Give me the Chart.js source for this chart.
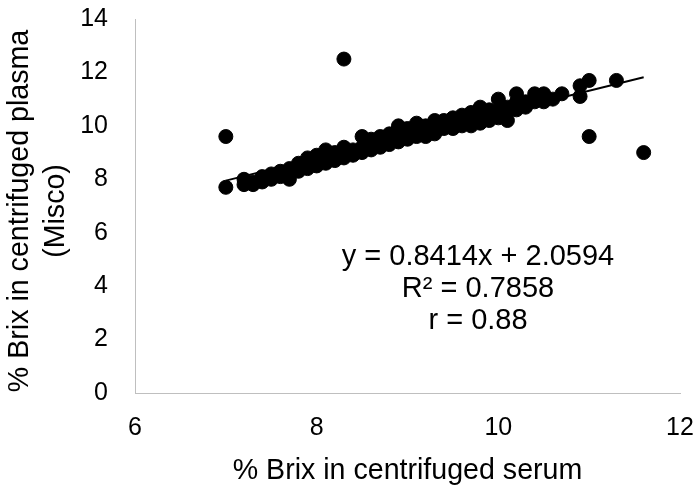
<!DOCTYPE html>
<html>
<head>
<meta charset="utf-8">
<script src="https://cdn.jsdelivr.net/npm/chart.js@4.4.1/dist/chart.umd.min.js"></script>
<style>
  html, body { margin: 0; padding: 0; background: #fff; }
  #wrap { width: 699px; height: 491px; }
</style>
</head>
<body>
<div id="wrap"><canvas id="brixChart" width="699" height="491"></canvas></div>
<script>
// % Brix readings, serum (x) paired with plasma (y)
const serumBrix = [
  7.0, 7.0,
  7.2, 7.2, 7.3, 7.3, 7.4, 7.4, 7.5, 7.5, 7.6, 7.6,
  7.7, 7.7, 7.7, 7.8, 7.8, 7.8, 7.9, 7.9, 7.9,
  8.0, 8.0, 8.0, 8.1, 8.1, 8.1, 8.2, 8.2, 8.2,
  8.3, 8.3, 8.3, 8.3, 8.4, 8.4, 8.4, 8.5, 8.5, 8.5,
  8.6, 8.6, 8.6, 8.7, 8.7, 8.7, 8.8, 8.8, 8.8, 8.9, 8.9, 8.9,
  9.0, 9.0, 9.0, 9.1, 9.1, 9.1, 9.2, 9.2, 9.2, 9.3, 9.3, 9.3,
  9.4, 9.4, 9.4, 9.5, 9.5, 9.5, 9.6, 9.6, 9.6, 9.7, 9.7, 9.7,
  9.8, 9.8, 9.8, 9.9, 9.9, 9.9, 10.0, 10.0, 10.0, 10.1, 10.1, 10.1,
  10.2, 10.2, 10.2, 10.3, 10.3, 10.4, 10.4, 10.5, 10.5, 10.6, 10.7,
  10.9, 10.9, 11.0, 11.0, 11.3, 11.6
];
const plasmaBrix = [
  7.7, 9.6,
  7.8, 8.0, 7.8, 7.9, 7.9, 8.1, 8.0, 8.2, 8.1, 8.3,
  8.0, 8.2, 8.4, 8.3, 8.5, 8.6, 8.4, 8.6, 8.8,
  8.5, 8.7, 8.9, 8.6, 8.8, 9.1, 8.7, 8.9, 9.0,
  8.8, 9.0, 9.2, 12.5, 8.9, 9.0, 9.1, 9.0, 9.2, 9.6,
  9.1, 9.3, 9.5, 9.2, 9.4, 9.6, 9.3, 9.5, 9.7, 9.4, 9.6, 10.0,
  9.5, 9.7, 9.9, 9.6, 9.8, 10.1, 9.6, 9.8, 10.0, 9.7, 9.9, 10.2,
  9.9, 10.0, 10.2, 9.9, 10.1, 10.3, 10.0, 10.2, 10.4, 10.0, 10.3, 10.5,
  10.1, 10.4, 10.7, 10.2, 10.4, 10.6, 10.3, 10.6, 11.0, 10.2, 10.5, 10.7,
  10.6, 10.9, 11.2, 10.7, 10.9, 10.9, 11.2, 10.9, 11.2, 11.0, 11.2,
  11.1, 11.5, 11.7, 9.6, 11.7, 9.0
];

// linear fit reported on the chart
const fitSlope = 0.8414;
const fitIntercept = 2.0594;
const fitLabels = ["y = 0.8414x + 2.0594", "R\u00b2 = 0.7858", "r = 0.88"];

const xTitle = "% Brix in centrifuged serum";
const yTitle = ["% Brix in centrifuged plasma", "(Misco)"];

const FONT = '"Liberation Sans", Arial, sans-serif';

const points = serumBrix.map((x, i) => ({ x: x, y: plasmaBrix[i] }));
const xMin = Math.min(...serumBrix);
const xMax = Math.max(...serumBrix);
const fitLine = [xMin, xMax].map((x) => ({ x: x, y: fitSlope * x + fitIntercept }));

// axis titles and the fit equation, drawn after the datasets
const textPlugin = {
  id: "chartText",
  afterDraw(chart) {
    const ctx = chart.ctx;
    const area = chart.chartArea;
    ctx.save();
    ctx.fillStyle = "#000";
    ctx.textAlign = "center";
    ctx.textBaseline = "middle";

    ctx.font = "28.6px " + FONT;
    ctx.fillText(xTitle, (area.left + area.right) / 2, 471);

    ctx.save();
    ctx.translate(20, (area.top + area.bottom) / 2 + 5);
    ctx.rotate(-Math.PI / 2);
    yTitle.forEach((line, i) => ctx.fillText(line, 0, i * 36));
    ctx.restore();

    ctx.font = "29px " + FONT;
    fitLabels.forEach((line, i) => ctx.fillText(line, 478, 257 + i * 32));
    ctx.restore();
  },
};

const ctx = document.getElementById("brixChart").getContext("2d");
const brixChart = new Chart(ctx, {
  type: "scatter",
  data: {
    datasets: [
      {
        type: "line",
        data: fitLine,
        borderColor: "#000",
        borderWidth: 2,
        pointRadius: 0,
        fill: false,
        order: 0,
      },
      {
        data: points,
        backgroundColor: "#000",
        borderColor: "#000",
        borderWidth: 1,
        pointRadius: 7,
        pointHoverRadius: 7,
        order: 1,
      },
    ],
  },
  options: {
    responsive: false,
    animation: false,
    events: [],
    layout: { padding: { top: 19, right: 19, left: 0, bottom: 0 } },
    plugins: {
      legend: { display: false },
      tooltip: { enabled: false },
    },
    scales: {
      x: {
        type: "linear",
        min: 6,
        max: 12,
        ticks: { stepSize: 2, color: "#000", padding: 20, font: { family: FONT, size: 25 } },
        grid: { drawOnChartArea: false, drawTicks: false },
        border: { color: "#bfbfbf", width: 1 },
        afterFit(scale) {
          scale.height = 98;
          scale.paddingLeft = 0;
          scale.paddingRight = 0;
        },
      },
      y: {
        min: 0,
        max: 14,
        ticks: { stepSize: 2, color: "#000", padding: 27, font: { family: FONT, size: 25 } },
        grid: { drawOnChartArea: false, drawTicks: false },
        border: { color: "#bfbfbf", width: 1 },
        afterFit(scale) {
          scale.width = 135;
          scale.paddingTop = 0;
          scale.paddingBottom = 0;
        },
      },
    },
  },
  plugins: [textPlugin],
});
</script>
</body>
</html>
